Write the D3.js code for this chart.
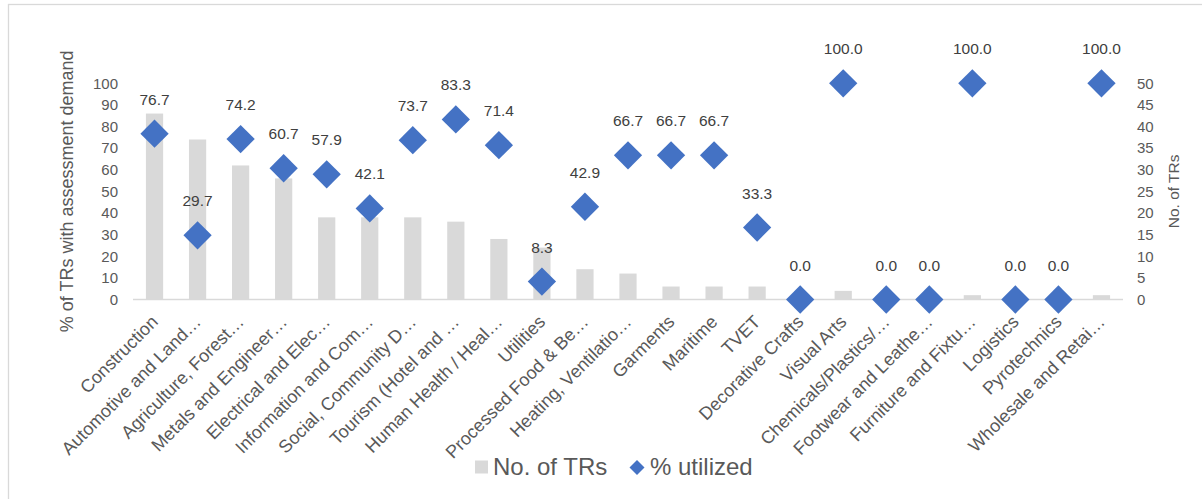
<!DOCTYPE html>
<html>
<head>
<meta charset="utf-8">
<script src="https://d3js.org/d3.v7.min.js"></script>
<style>
    body { margin: 0; background: #ffffff; }
    text { font-family: Arial, "Liberation Sans", sans-serif; }
</style>
</head>
<body>
<div id="chart"></div>
<script>
// categories and values
var categories = ["Construction", "Automotive and Land\u2026", "Agriculture, Forest\u2026", "Metals and Engineer\u2026",
    "Electrical and Elec\u2026", "Information and Com\u2026", "Social, Community D\u2026", "Tourism (Hotel and \u2026",
    "Human Health / Heal\u2026", "Utilities", "Processed Food & Be\u2026", "Heating, Ventilatio\u2026", "Garments",
    "Maritime", "TVET", "Decorative Crafts", "Visual Arts", "Chemicals/Plastics/\u2026", "Footwear and Leathe\u2026",
    "Furniture and Fixtu\u2026", "Logistics", "Pyrotechnics", "Wholesale and Retai\u2026"];
var noOfTRs = [43, 37, 31, 28, 19, 19, 19, 18, 14, 12, 7, 6, 3, 3, 3, 1, 2, 1, 1, 1, 1, 1, 1];
var pctUtilized = [76.7, 29.7, 74.2, 60.7, 57.9, 42.1, 73.7, 83.3, 71.4, 8.3, 42.9, 66.7, 66.7, 66.7, 33.3,
    0.0, 100.0, 0.0, 0.0, 100.0, 0.0, 0.0, 100.0];
var leftTicks = [0, 10, 20, 30, 40, 50, 60, 70, 80, 90, 100];
var rightTicks = [0, 5, 10, 15, 20, 25, 30, 35, 40, 45, 50];

var width = 1202, height = 499;
var plot = {left: 133, right: 1123, top: 83.3, bottom: 299.5};

var svg = d3.select("#chart")
    .append("svg")
    .attr("width", width)
    .attr("height", height);

//chart area border
svg.append("rect")
    .attr("x", 8.5)
    .attr("y", 4.5)
    .attr("width", 1220)
    .attr("height", 600)
    .attr("fill", "none")
    .attr("stroke", "#d9d9d9")
    .attr("stroke-width", 1.3);

var x = d3.scaleBand()
    .domain(categories)
    .range([plot.left, plot.right])
    .paddingInner(0.6)
    .paddingOuter(0.3);

var yLeft = d3.scaleLinear().domain([0, 100]).range([plot.bottom, plot.top]);
var yRight = d3.scaleLinear().domain([0, 50]).range([plot.bottom, plot.top]);

//bars
svg.append("g")
    .selectAll("rect")
    .data(noOfTRs)
    .enter().append("rect")
    .attr("x", function(d, i) { return x(categories[i]); })
    .attr("y", function(d) { return yRight(d); })
    .attr("width", x.bandwidth())
    .attr("height", function(d) { return yRight(0) - yRight(d); })
    .attr("fill", "#d9d9d9");

//baseline
svg.append("line")
    .attr("x1", plot.left)
    .attr("x2", plot.right)
    .attr("y1", yLeft(0))
    .attr("y2", yLeft(0))
    .attr("stroke", "#d9d9d9")
    .attr("stroke-width", 1.3);

//left axis
var axisL = svg.append("g")
    .attr("transform", "translate(" + (plot.left - 15) + ",0)")
    .call(d3.axisLeft(yLeft).tickValues(leftTicks).tickSize(0).tickPadding(0));
axisL.select(".domain").remove();
axisL.selectAll("text")
    .attr("font-size", "15px")
    .attr("font-family", "Arial, 'Liberation Sans', sans-serif")
    .attr("fill", "#595959");

//right axis
var axisR = svg.append("g")
    .attr("transform", "translate(" + (plot.right + 14) + ",0)")
    .call(d3.axisRight(yRight).tickValues(rightTicks).tickSize(0).tickPadding(0));
axisR.select(".domain").remove();
axisR.selectAll("text")
    .attr("font-size", "15px")
    .attr("font-family", "Arial, 'Liberation Sans', sans-serif")
    .attr("fill", "#595959");

//axis titles
svg.append("text")
    .attr("transform", "translate(73," + ((plot.top + plot.bottom) / 2) + ") rotate(-90)")
    .attr("text-anchor", "middle")
    .attr("font-size", "18px")
    .attr("fill", "#595959")
    .text("% of TRs with assessment demand");

svg.append("text")
    .attr("transform", "translate(1179," + ((plot.top + plot.bottom) / 2) + ") rotate(-90)")
    .attr("text-anchor", "middle")
    .attr("font-size", "15.5px")
    .attr("fill", "#595959")
    .text("No. of TRs");

//category labels
svg.append("g")
    .selectAll("text")
    .data(categories)
    .enter().append("text")
    .attr("transform", function(d) {
        return "translate(" + (x(d) + x.bandwidth() / 2 + 4.5) + ",323) rotate(-45)";
    })
    .attr("text-anchor", "end")
    .attr("font-size", "18px")
    .attr("fill", "#595959")
    .text(function(d) { return d; });

//diamonds
var diamond = d3.symbol().type(d3.symbolSquare).size(400);
svg.append("g")
    .selectAll("path")
    .data(pctUtilized)
    .enter().append("path")
    .attr("d", diamond)
    .attr("transform", function(d, i) {
        return "translate(" + (x(categories[i]) + x.bandwidth() / 2) + "," + yLeft(d) + ") rotate(45)";
    })
    .attr("fill", "#4472c4");

//data labels
svg.append("g")
    .selectAll("text")
    .data(pctUtilized)
    .enter().append("text")
    .attr("x", function(d, i) { return x(categories[i]) + x.bandwidth() / 2; })
    .attr("y", function(d) { return yLeft(d) - 29; })
    .attr("text-anchor", "middle")
    .attr("font-size", "15.5px")
    .attr("fill", "#404040")
    .text(function(d) { return d3.format(".1f")(d); });

//legend
var lg = svg.append("g").attr("class", "legend");
lg.append("rect")
    .attr("x", 475)
    .attr("y", 460.5)
    .attr("width", 13)
    .attr("height", 13)
    .attr("fill", "#d9d9d9");
lg.append("text")
    .attr("x", 493)
    .attr("y", 475)
    .attr("font-size", "24px")
    .attr("fill", "#595959")
    .text("No. of TRs");
lg.append("path")
    .attr("d", d3.symbol().type(d3.symbolSquare).size(113))
    .attr("transform", "translate(637,467.5) rotate(45)")
    .attr("fill", "#4472c4");
lg.append("text")
    .attr("x", 650)
    .attr("y", 475)
    .attr("font-size", "24px")
    .attr("fill", "#595959")
    .text("% utilized");
</script>
</body>
</html>
